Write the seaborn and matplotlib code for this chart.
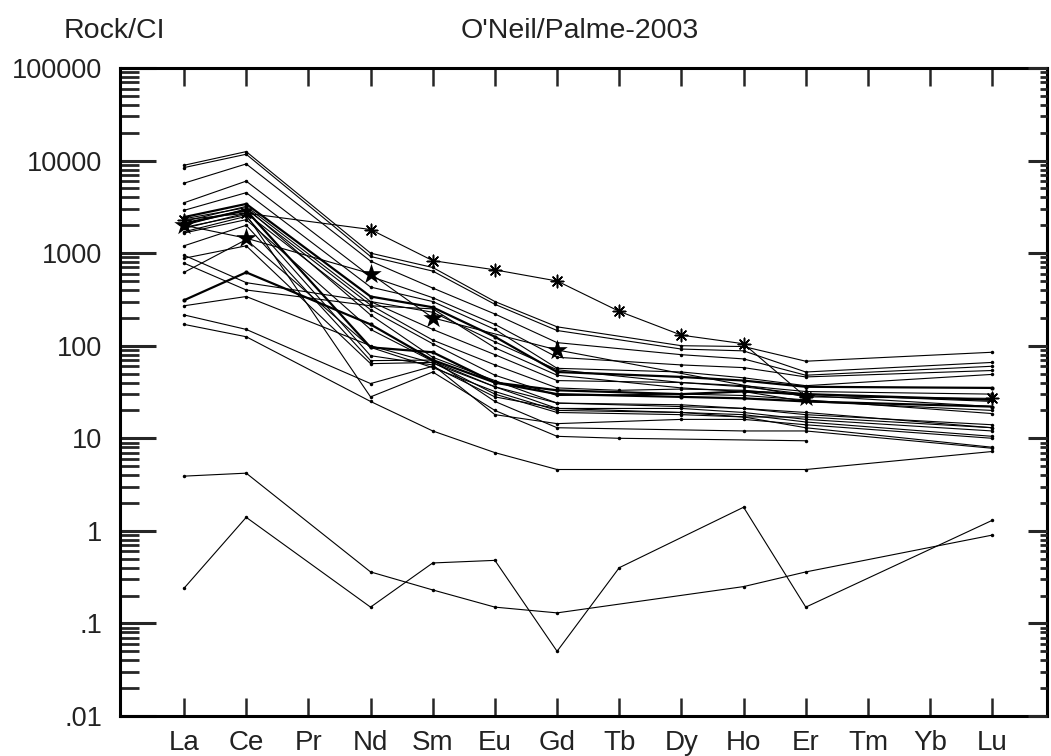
import numpy as np
import pandas as pd
import matplotlib
matplotlib.use('Agg')
import matplotlib.pyplot as plt
import seaborn as sns
from matplotlib.ticker import FixedLocator, LogLocator, NullFormatter

n = np.nan
ree = ['La', 'Ce', 'Pr', 'Nd', 'Sm', 'Eu', 'Gd', 'Tb', 'Dy', 'Ho', 'Er', 'Tm', 'Yb', 'Lu']
y_ticks = [0.01, 0.1, 1, 10, 100, 1000, 10000, 100000]
y_labels = ['.01', '.1', '1', '10', '100', '1000', '10000', '100000']

# chondrite-normalised values (nan = not analysed)
#      La     Ce     Pr  Nd    Sm    Eu    Gd    Tb   Dy    Ho    Er    Tm Yb Lu
s01 = [8900, 12500, n, 1000, 700,  300,  160,  n,   100,  98,   68,   n, n, 85]
s02 = [8400, 11700, n, 920,  640,  280,  146,  n,   92,   88,   52,   n, n, 66]
s03 = [5700, 9200,  n, 820,  420,  220,  108,  n,   80,   72,   48,   n, n, 60]
s04 = [3500, 6000,  n, 560,  330,  170,  75,   n,   62,   58,   46,   n, n, 54]
s05 = [2900, 4500,  n, 430,  300,  150,  57,   n,   52,   45,   37,   n, n, 49]
s06 = [2300, 2700,  n, 1800, 830,  660,  500,  235, 130,  105,  28,   n, n, 27]
s07 = [2000, 1450,  n, 600,  200,  n,    90,   n,   n,    n,    28,   n, n, n]
s08 = [2450, 3400,  n, 340,  260,  125,  52,   n,   46,   42,   36,   n, n, 35]
s09 = [2200, 3200,  n, 300,  150,  80,   42,   n,   40,   37,   32,   n, n, 30]
s10 = [2000, 3000,  n, 275,  115,  62,   35,   33,  34,   33,   29,   n, n, 22]
s11 = [1850, 2700,  n, 245,  105,  48,   29,   n,   30,   29,   26,   n, n, 18.5]
s12 = [2350, 3100,  n, 215,  75,   42,   24,   n,   23,   21,   19,   n, n, 13]
s13 = [1650, 2300,  n, 150,  68,   36,   21,   n,   21,   19,   16,   n, n, 12]
s14 = [950,  480,   n, 300,  230,  110,  55,   n,   40,   36,   30,   n, n, 25]
s15 = [780,  400,   n, 270,  250,  95,   48,   n,   35,   32,   25,   n, n, 20]
s16 = [620,  1400,  n, 96,   58,   32,   20,   n,   19,   18,   15,   n, n, 10.5]
s17 = [310,  620,   n, 170,  70,   40,   30,   n,   28,   27,   25,   n, n, 22]
s18 = [270,  340,   n, 100,  65,   36,   24,   n,   22,   21,   18,   n, n, 14]
s19 = [215,  150,   n, 39,   60,   28,   21,   n,   19,   17,   13,   n, n, 8]
s20 = [170,  125,   n, 25,   12,   7,    4.6,  n,   n,    n,    4.6,  n, n, 7.2]
s21 = [1900, 2600,  n, 28,   52,   20,   10.5, 10,  n,    n,    9.4,  n, n, n]
s22 = [2100, 2900,  n, 96,   85,   40,   33,   n,   30,   32,   30,   n, n, 26]
s23 = [1700, 2500,  n, 78,   62,   18,   14.4, n,   16,   16,   14,   n, n, 10]
s24 = [1200, 2000,  n, 69,   70,   25,   13,   n,   n,    12,   12,   n, n, 7.8]
s25 = [880,  1200,  n, 64,   66,   30,   19,   n,   18,   17,   17,   n, n, 13]
s26 = [3.9,  4.2,   n, 0.36, 0.23, 0.15, 0.13, n,   n,    0.25, 0.36, n, n, 0.9]
s27 = [0.24, 1.4,   n, 0.15, 0.45, 0.48, 0.05, 0.4, n,    1.8,  0.15, n, n, 1.3]

samples = {'s01': s01, 's02': s02, 's03': s03, 's04': s04, 's05': s05,
           's06': s06, 's07': s07, 's08': s08, 's09': s09, 's10': s10,
           's11': s11, 's12': s12, 's13': s13, 's14': s14, 's15': s15,
           's16': s16, 's17': s17, 's18': s18, 's19': s19, 's20': s20,
           's21': s21, 's22': s22, 's23': s23, 's24': s24, 's25': s25,
           's26': s26, 's27': s27}
bold = ['s17', 's22', 's08']
asterisk = ['s06']
star = ['s07']

rows = []
for name, vals in samples.items():
    for i, v in enumerate(vals):
        if not np.isnan(v):
            rows.append((name, i, v))
df = pd.DataFrame(rows, columns=['sample', 'pos', 'value'])

sns.set_theme(style='ticks')
plt.rcParams['font.family'] = ['Liberation Sans', 'DejaVu Sans']

fig = plt.figure(figsize=(10.51, 7.56), dpi=100)
ax = fig.add_axes([120 / 1051, 40 / 756, 927 / 1051, 648 / 756])

thin = df[~df['sample'].isin(bold)]
thick = df[df['sample'].isin(bold)]
sns.lineplot(data=thin, x='pos', y='value', units='sample', estimator=None,
             color='black', lw=0.8, marker='o', markersize=2.5,
             markeredgewidth=0, legend=False, ax=ax)
sns.lineplot(data=thick, x='pos', y='value', units='sample', estimator=None,
             color='black', lw=1.6, marker='o', markersize=3,
             markeredgewidth=0, legend=False, ax=ax)
sns.scatterplot(data=df[df['sample'].isin(asterisk)], x='pos', y='value',
                marker=(8, 2, 0), s=80, color='black', linewidth=1.1,
                legend=False, ax=ax)
sns.scatterplot(data=df[df['sample'].isin(star)], x='pos', y='value',
                marker='*', s=240, color='black', linewidth=0,
                legend=False, ax=ax)

ax.set_yscale('log')
ax.set_ylim(0.01, 100000)
ax.set_xlim(-1.03, 13.88)
ax.yaxis.set_major_locator(FixedLocator(y_ticks))
ax.set_yticklabels(y_labels)
ax.yaxis.set_minor_locator(LogLocator(base=10, subs=range(2, 10), numticks=20))
ax.yaxis.set_minor_formatter(NullFormatter())
ax.set_xticks(range(len(ree)))
ax.set_xticklabels(ree)
ax.set_xlabel('')
ax.set_ylabel('')

ax.tick_params(axis='x', which='major', direction='in', top=True, bottom=True,
               length=13, width=1.8, pad=10, labelsize=20, labelcolor='#222222')
ax.tick_params(axis='y', which='major', direction='in', left=True, right=False,
               length=26, width=2.2, pad=13, labelsize=19.5, labelcolor='#222222')
ax.tick_params(axis='y', which='minor', direction='in', left=True, right=False,
               length=14, width=2)
for sp in ax.spines.values():
    sp.set_visible(True)
    sp.set_linewidth(2.2)
    sp.set_color('black')

# right-hand ticks are shorter than the left ones
ax2 = ax.twinx()
ax2.set_yscale('log')
ax2.set_ylim(0.01, 100000)
ax2.yaxis.set_major_locator(FixedLocator(y_ticks))
ax2.yaxis.set_minor_locator(LogLocator(base=10, subs=range(2, 10), numticks=20))
ax2.yaxis.set_minor_formatter(NullFormatter())
ax2.tick_params(axis='y', which='major', direction='in', length=14, width=2.2,
                labelright=False)
ax2.tick_params(axis='y', which='minor', direction='in', length=5, width=2)
for sp in ax2.spines.values():
    sp.set_visible(False)

fig.text(114 / 1051, 1 - 31 / 756, 'Rock/CI', ha='center', va='center',
         fontsize=20.5, color='#222222')
fig.text(580 / 1051, 1 - 31 / 756, "O'Neil/Palme-2003", ha='center',
         va='center', fontsize=20.5, color='#222222')

fig.savefig('out.png', dpi=100, facecolor='white')
